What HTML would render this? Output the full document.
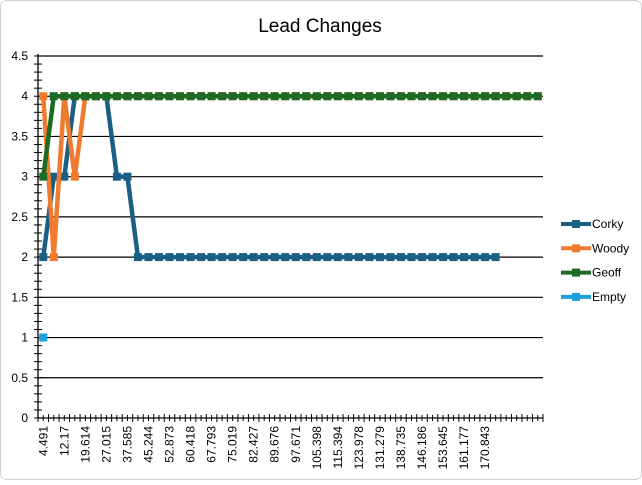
<!DOCTYPE html>
<html><head><meta charset="utf-8"><style>
html,body{margin:0;padding:0;background:#fff;}
svg text{font-family:"Liberation Sans",sans-serif;}
</style></head><body>
<svg id="chart" width="642" height="480" xmlns="http://www.w3.org/2000/svg">
<rect x="0.5" y="0.5" width="641" height="479" rx="6" fill="#fff" stroke="#d0d0d0"/>
<text x="320" y="32" text-anchor="middle" font-size="19" fill="#000">Lead Changes</text>
<g id="grid"></g><g id="axes"></g><g id="series"></g><g id="legend"></g>
</svg>
<script>
const categories = ["4.491","","12.17","","19.614","","27.015","","37.585","","45.244","","52.873","","60.418","","67.793","","75.019","","82.427","","89.676","","97.671","","105.398","","115.394","","123.978","","131.279","","138.735","","146.186","","153.645","","161.177","","170.843","","","","",""];
const corky = [2,3,3,4,4,4,4,3,3,2,2,2,2,2,2,2,2,2,2,2,2,2,2,2,2,2,2,2,2,2,2,2,2,2,2,2,2,2,2,2,2,2,2,2];
const woody = [4,2,4,3,4,4,4,4,4,4,4,4,4,4,4,4,4,4,4,4,4,4,4,4,4,4,4,4,4,4,4,4,4,4,4,4,4,4,4,4,4,4,4,4,4,4,4,4];
const geoff = [3,4,4,4,4,4,4,4,4,4,4,4,4,4,4,4,4,4,4,4,4,4,4,4,4,4,4,4,4,4,4,4,4,4,4,4,4,4,4,4,4,4,4,4,4,4,4,4];
const empty = [1];
const yTicks = [0,0.5,1,1.5,2,2.5,3,3.5,4,4.5];
const seriesNames = ["Corky","Woody","Geoff","Empty"];
const seriesColors = ["#1b5f85","#f07b2f","#1d6a25","#1aa1dc"];

const NS="http://www.w3.org/2000/svg";
const L=38,R=543,T=56,B=418,yMax=4.5;
const bw=(R-L)/categories.length;
const xS=i=>L+bw*(i+0.5);
const yS=v=>B-(v/yMax)*(B-T);
function mk(tag,attrs,parent){const e=document.createElementNS(NS,tag);for(const k in attrs)e.setAttribute(k,attrs[k]);parent.appendChild(e);return e;}
const grid=document.getElementById('grid'),axes=document.getElementById('axes'),ser=document.getElementById('series'),leg=document.getElementById('legend');
yTicks.forEach(v=>{
  if(v>0){const g=mk('line',{x1:L,x2:R,y1:yS(v),y2:yS(v),stroke:'#000','stroke-width':1.2},grid);
  
  }
  const t=mk('text',{x:28,y:yS(v)+4,'text-anchor':'end','font-size':12,fill:'#000'},axes);
  
  
  t.textContent=String(v);
});
for(let v=0;v<=yMax+1e-9;v+=0.1){mk('line',{x1:L-4,x2:L+4,y1:yS(v),y2:yS(v),stroke:'#000','stroke-width':1},axes);}
const ya=mk('line',{x1:L,x2:L,y1:T-2,y2:B,stroke:'#000','stroke-width':1.3},axes);


const xa=mk('line',{x1:L,x2:R,y1:B,y2:B,stroke:'#000','stroke-width':1.3},axes);


for(let i=0;i<=categories.length;i++){mk('line',{x1:L+bw*i,x2:L+bw*i,y1:B-4,y2:B+4,stroke:'#000','stroke-width':1},axes);
 if(i<categories.length)mk('line',{x1:xS(i),x2:xS(i),y1:B-3,y2:B+3,stroke:'#000','stroke-width':1},axes);}
categories.forEach((c,i)=>{if(!c)return;
  const t=mk('text',{x:0,y:0,'text-anchor':'end','font-size':12,fill:'#000',transform:`translate(${xS(i)+4},${B+8}) rotate(-90)`},axes);
  
  
  t.textContent=c;});
[corky,woody,geoff,empty].forEach((arr,s)=>{
  const g=mk('g',{},ser);
  
  
  if(arr.length>1){const p=mk('polyline',{points:arr.map((v,i)=>xS(i)+','+yS(v)).join(' '),fill:'none',stroke:seriesColors[s],'stroke-width':4.5,'stroke-linejoin':'round'},g);
  
  }
  arr.forEach((v,i)=>{const m=mk('rect',{x:xS(i)-4,y:yS(v)-4,width:8,height:8,fill:seriesColors[s]},g);
  
  });
});
seriesNames.forEach((n,s)=>{const y=224+s*24.3;
  const g=mk('g',{},leg);
  
  
  mk('line',{x1:561,x2:591,y1:y,y2:y,stroke:seriesColors[s],'stroke-width':4},g);
  mk('rect',{x:572,y:y-4,width:8,height:8,fill:seriesColors[s]},g);
  const t=mk('text',{x:592,y:y+4,'font-size':12,fill:'#000'},g);
  t.textContent=n;});
</script>
</body></html>
